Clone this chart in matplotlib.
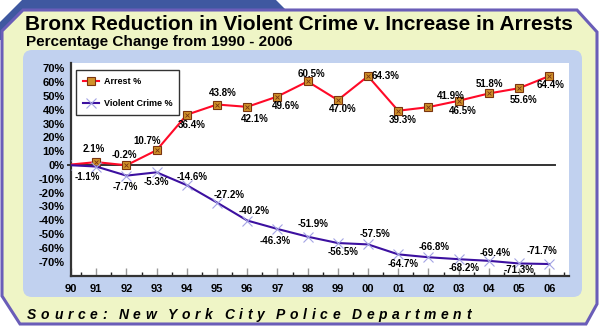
import matplotlib
matplotlib.use("Agg")
import matplotlib.pyplot as plt
from matplotlib.patches import Polygon, FancyBboxPatch
from matplotlib.ticker import MultipleLocator

plt.rcParams['font.family'] = ['Liberation Sans', 'DejaVu Sans']

# data
years = list(range(17))  # 1990 .. 2006
year_labels = ['90', '91', '92', '93', '94', '95', '96', '97', '98', '99',
               '00', '01', '02', '03', '04', '05', '06']
arrest = [0, 2.1, -0.2, 10.7, 36.4, 43.8, 42.1, 49.6, 60.5, 47.0,
          64.3, 39.3, 41.9, 46.5, 51.8, 55.6, 64.4]
violent = [0, -1.1, -7.7, -5.3, -14.6, -27.2, -40.2, -46.3, -51.9, -56.5,
           -57.5, -64.7, -66.8, -68.2, -69.4, -71.3, -71.7]
y_ticks = list(range(-70, 80, 10))

# label offsets in pixels (dx, dy) for points 91..06
arrest_off = [(-2, 13), (-2, 10), (-9, 9), (5, -10), (6, 12), (8, -12), (8, -9),
              (4, 7), (5, -9), (18, 0), (4, -9), (22, 11), (4, -10), (1, 9),
              (4, -12), (1, -9)]
violent_off = [(-9, -10), (-1, -11), (0, -10), (5, 8), (12, 8), (7, 10), (-2, -12),
               (5, 13), (5, -9), (7, 10), (5, -10), (6, 10), (6, -9), (6, 8),
               (0, -7), (-7, 13)]

W, H = 600, 326
fig = plt.figure(figsize=(W / 100, H / 100), dpi=100)
fig.patch.set_facecolor('white')

# background decoration in pixel coords
bg = fig.add_axes([0, 0, 1, 1])
bg.set_xlim(0, W)
bg.set_ylim(H, 0)
bg.axis('off')
bg.add_patch(Polygon([(0, 22), (22, 0), (276, 0), (287, 11), (287, 40), (0, 40)],
                     closed=True, facecolor='#3F58A0', edgecolor='none'))
bg.add_patch(Polygon([(2, 31), (23, 10), (577, 10), (597, 32), (597, 304),
                      (586, 324), (20, 324), (2, 296)],
                     closed=True, facecolor='#EFF5C6', edgecolor='#6A5DB8', lw=2.2))
bg.add_patch(FancyBboxPatch((23, 50), 559, 247, boxstyle='round,pad=0,rounding_size=9',
                            facecolor='#C1D1EF', edgecolor='none'))

fig.text(25 / W, 1 - 30 / H, 'Bronx Reduction in Violent Crime v. Increase in Arrests',
         fontsize=15, fontweight='bold', va='baseline', ha='left')
fig.text(26 / W, 1 - 46 / H, 'Percentage Change from 1990 - 2006',
         fontsize=11, fontweight='bold', va='baseline', ha='left')

# source line with wide letter spacing
src = 'Source: New York City Police Department'
renderer = fig.canvas.get_renderer()
txts = []
widths = []
for ch in src:
    t = fig.text(0, 1 - 319 / H, ch, fontsize=10, fontweight='bold', style='italic',
                 va='baseline', ha='left')
    txts.append(t)
    if ch == ' ':
        widths.append(2.0)
    else:
        widths.append(t.get_window_extent(renderer).width)
gap = (444 - sum(widths)) / (len(src) - 1)
x = 27
for t, w in zip(txts, widths):
    t.set_x(x / W)
    x += w + gap

# main chart
left, right, top, bottom = 71, 569, 63, 276
ax = fig.add_axes([left / W, 1 - bottom / H, (right - left) / W, (bottom - top) / H])
ax.set_facecolor('white')
x0 = 5 / 30.2
ax.set_xlim(x0, x0 + (right - left) / 30.2)
ax.set_ylim(-(bottom - 165) / 1.381, (165 - top) / 1.381)

for s in ['top', 'right']:
    ax.spines[s].set_visible(False)
for s in ['left', 'bottom']:
    ax.spines[s].set_color('#333333')
    ax.spines[s].set_linewidth(1.6)

ax.axhline(0, xmin=-0.006, xmax=0.972, color='#333333', lw=1.4, clip_on=False, zorder=2)

ax.plot(years, arrest, color='#FF0A28', lw=1.5, marker='s', markersize=6,
        markerfacecolor='#D0922A', markeredgecolor='#7A3410', markeredgewidth=0.8,
        label='Arrest %', zorder=4)
ax.plot(years, arrest, ls='none', marker='x', markersize=3.5, color='#7A3410',
        markeredgewidth=0.6, zorder=5)
ax.plot(years, violent, color='#3C10A0', lw=1.5, marker='x', markersize=7,
        markeredgecolor='#A4A4E4', markeredgewidth=0.8, label='Violent Crime %', zorder=4)

for i in range(1, len(years)):
    ax.annotate(f'{arrest[i]:.1f}%', (years[i], arrest[i]), xytext=arrest_off[i - 1],
                textcoords='offset pixels', ha='center', va='center',
                fontsize=7, fontweight='bold', zorder=6)
    ax.annotate(f'{violent[i]:.1f}%', (years[i], violent[i]), xytext=violent_off[i - 1],
                textcoords='offset pixels', ha='center', va='center',
                fontsize=7, fontweight='bold', zorder=6)

ax.set_yticks(y_ticks)
ax.set_yticklabels([f'{v}%' for v in y_ticks])
ax.tick_params(axis='y', length=0, pad=4.5, labelsize=8)
ax.set_xticks([x0] + years[1:])
ax.set_xticklabels(year_labels)
ax.xaxis.set_minor_locator(MultipleLocator(0.5))
ax.tick_params(axis='x', which='major', direction='in', length=6, width=1,
               color='#999999', pad=6, labelsize=8)
ax.tick_params(axis='x', which='minor', direction='in', length=3, width=1, color='#222222')
for lab in ax.get_xticklabels() + ax.get_yticklabels():
    lab.set_fontweight('bold')

leg = ax.legend(loc='upper left', bbox_to_anchor=(0.01, 0.967), fontsize=6.5,
                frameon=True, fancybox=False, edgecolor='black', handlelength=1.8,
                labelspacing=1.5, borderpad=0.75, handletextpad=0.5, borderaxespad=0)
leg.get_frame().set_linewidth(1.0)
for t in leg.get_texts():
    t.set_fontweight('bold')

fig.savefig('out.png', dpi=100)
